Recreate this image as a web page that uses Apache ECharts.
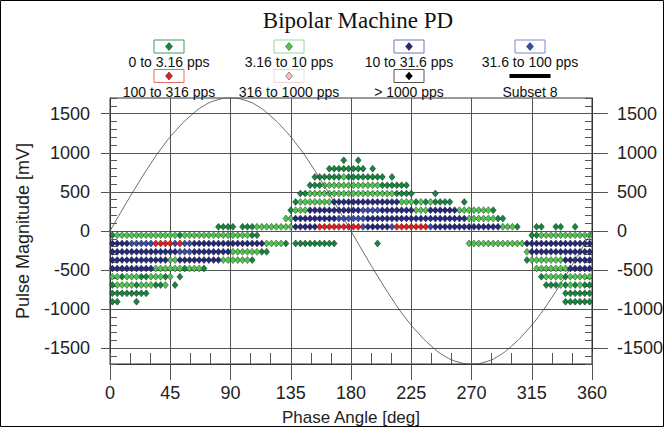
<!DOCTYPE html>
<html><head><meta charset="utf-8">
<script src="https://cdn.jsdelivr.net/npm/echarts@6/dist/echarts.min.js"></script>
<style>html,body{margin:0;padding:0;background:#fff}#c{width:664px;height:427px}</style>
</head><body><div id="c"></div><script>
const titleText = 'Bipolar Machine PD';
const seriesNames = ['0 to 3.16 pps', '3.16 to 10 pps', '10 to 31.6 pps', '31.6 to 100 pps', '100 to 316 pps', '316 to 1000 pps', '> 1000 pps'];
const seriesCodes = ['a', 'b', 'c', 'd', 'e', 'f', 'g'];
const curveName = 'Subset 8';
const phaseWindow = 3.6; // 100 phase windows of 3.6 deg
const magnitudes = [903, 797, 691, 584, 478, 372, 266, 159, 53, -53, -159, -266, -372, -478, -584, -691, -797, -903];
// one string per magnitude bin, one character per phase window ('.' = no pulses)
const rows = [
  ".......... .......... .......... .......... ........a. .a........ .......... .......... .......... ..........",
  ".......... .......... .......... .......... .....aaaaa aaa.a..... .......... .......... .......... ..........",
  ".......... .......... .......... .......... ..aaaaaaba aaaaaaa.a. .......... .......... .......... ..........",
  ".......... .......... .......... .......... .aaabbbbbb bbbbbbaaaa aa........ .......... .......... ..........",
  ".......... .......... .......... .........a abbbbbbbbb bbbbbbbbba aaa....a.. .......... .......... ..........",
  ".......... .......... .......... ........ab bbbbbbcccc cccccccccc bbbababaaa a..a...... .......... ..........",
  ".......... .......... .......... .......abb bccccccccc ccddddcccc cccbbbcccc ccbbbbbbba .......... ..........",
  ".......... .......... .......... ......bbcc cccccccddd dddccccccc cccccccccc ccccbbbbbb aa........ ..........",
  ".......... .......... ..aaaa.aaa bbbbbbbbcc ccceeeeeee eedcccccde eeeeeedccc cccccccccc cbbba...aa ..aa..a...",
  "abbbbbbbbb bbbbabbbbb bbbbbbbbba a......... .......... .......... .......... .......... .......aab bbbbbbbbbb",
  "ccccddddde eeededdccc cccccccccc ccbbbba.aa aaaaaaa... .....a.... .......... ....bbbbbb bbbbbbcccc cccccccccc",
  "cccccccccc ccccdddccc cccccbbbbb baa....... .......... .......... .......... .......... ......bccc cccccccccc",
  "cccccccccc ccbbcccccc cccbbbbbba .......... .......... .......... .......... .......... ......abbb bbbbcccccc",
  "cccccccccb bbbbbabbba .......... .......... .......... .......... .......... .......... ........bb bbbbbccccc",
  "bbabbbaabb bab.a..... .......... .......... .......... .......... .......... .......... .........a bbbbabbbbb",
  "abbbbabbba ab.a...... .......... .......... .......... .......... .......... .......... .......... aaabababaa",
  "aaaaaaaa.. .......... .......... .......... .......... .......... .......... .......... .......... ....aaaaaa",
  "aa...a.... .......... .......... .......... .......... .......... .......... .......... .......... ....aaaaaa"
];
const curvePhase = [0,10,20,30,40,50,60,70,80,90,100,110,120,130,140,150,160,170,180,190,200,210,220,230,240,250,260,270,280,290,300,310,320,330,340,350,360];
const curveValue = [0,295,580,850,1095,1300,1470,1600,1675,1700,1675,1600,1470,1300,1095,850,580,295,0,-295,-580,-850,-1095,-1300,-1470,-1600,-1675,-1700,-1675,-1600,-1470,-1300,-1095,-850,-580,-295,0];
const yTickValues = [-1500, -1000, -500, 0, 500, 1000, 1500];
const xAxisTitle = 'Phase Angle [deg]';
const yAxisTitle = 'Pulse Magnitude [mV]';

const seriesColors = ['#14863f', '#4fc44f', '#25297c', '#3a4aa6', '#e31d1d', '#f6c0c0', '#000000'];
const legendBoxColors = ['#3d9c5c', '#93d893', '#7474b4', '#7a88c8', '#e86a6a', '#f4d4d4', '#555555'];
const FONT = '"Liberation Sans", Arial, sans-serif';

const scatterSeries = seriesCodes.map((code, s) => {
  const data = [];
  rows.forEach((row, r) => {
    const cells = row.replace(/ /g, '');
    for (let i = 0; i < cells.length; i++) {
      if (cells[i] === code) data.push([(i + 0.5) * phaseWindow, magnitudes[r]]);
    }
  });
  return {
    name: seriesNames[s], type: 'scatter', symbol: 'diamond', symbolSize: [6, 7],
    data, silent: true, z: 3,
    itemStyle: { color: seriesColors[s], borderColor: '#0a0a0a', borderWidth: 0.4, opacity: 1 }
  };
});

const curveSeries = {
  name: curveName, type: 'line', smooth: true, showSymbol: false, silent: true, z: 4,
  data: curvePhase.map((p, i) => [p, curveValue[i]]),
  lineStyle: { color: '#444', width: 0.8 }
};

// legend drawn as graphics (icon box above label)
const legendCols = [169, 289, 409, 530];
const legendRowsPos = [{ box: 46.5, text: 62 }, { box: 76, text: 92 }];
const graphics = [];
seriesNames.forEach((name, i) => {
  const cx = legendCols[i % 4];
  const rp = legendRowsPos[Math.floor(i / 4)];
  graphics.push({ type: 'rect', silent: true, shape: { x: cx - 15, y: rp.box - 6.5, width: 30, height: 13 }, style: { fill: '#fff', stroke: legendBoxColors[i], lineWidth: 1 } });
  graphics.push({ type: 'polygon', silent: true, shape: { points: [[cx, rp.box - 4], [cx + 3.5, rp.box], [cx, rp.box + 4], [cx - 3.5, rp.box]] }, style: { fill: seriesColors[i], stroke: '#000', lineWidth: 0.4 } });
  graphics.push({ type: 'text', silent: true, x: cx, y: rp.text, style: { text: name, font: '14px ' + FONT, fill: '#111', align: 'center', verticalAlign: 'middle', textAlign: 'center', textVerticalAlign: 'middle' } });
});
{
  const cx = legendCols[3];
  const rp = legendRowsPos[1];
  graphics.push({ type: 'rect', silent: true, shape: { x: cx - 20.5, y: rp.box - 2, width: 41, height: 4 }, style: { fill: '#000' } });
  graphics.push({ type: 'text', silent: true, x: cx, y: rp.text, style: { text: curveName, font: '14px ' + FONT, fill: '#111', align: 'center', verticalAlign: 'middle', textAlign: 'center', textVerticalAlign: 'middle' } });
}
graphics.push({ type: 'rect', silent: true, shape: { x: 0.5, y: 0.5, width: 663, height: 426 }, style: { fill: 'none', stroke: '#000', lineWidth: 1 } });

const chart = echarts.init(document.getElementById('c'), null, { renderer: 'svg' });
const labelStyle = { fontSize: 18, color: '#222', fontFamily: FONT, formatter: v => String(v) };
chart.setOption({
  animation: false,
  backgroundColor: '#fff',
  title: { text: titleText, left: 353, top: 4, textAlign: 'center', textStyle: { fontFamily: '"Liberation Serif", "Times New Roman", serif', fontSize: 23, fontWeight: 'normal', color: '#111' } },
  grid: { left: 110, right: 72, top: 98, bottom: 63, containLabel: false, outerBoundsMode: 'none', show: true, borderColor: '#333', borderWidth: 1, backgroundColor: 'transparent' },
  xAxis: [
    { type: 'value', min: 0, max: 360, interval: 45, position: 'bottom',
      axisLine: { show: true, onZero: false, lineStyle: { color: '#333' } },
      axisTick: { show: true, length: 16, lineStyle: { color: '#555' } },
      axisLabel: Object.assign({ margin: 20 }, labelStyle),
      splitLine: { show: true, lineStyle: { color: '#555', width: 1 } },
      name: xAxisTitle, nameLocation: 'middle', nameGap: 45, nameTextStyle: { fontSize: 17, color: '#222', fontFamily: FONT } },
    { type: 'value', min: 0, max: 360, interval: 15, position: 'bottom',
      axisLine: { show: false, onZero: false }, axisTick: { show: true, inside: true, length: 11, lineStyle: { color: '#555' } },
      axisLabel: { show: false }, splitLine: { show: false } }
  ],
  yAxis: [
    { type: 'value', min: -1700, max: 1700, position: 'left',
      axisLine: { show: true, onZero: false, lineStyle: { color: '#333' } },
      axisTick: { show: true, length: 9, customValues: yTickValues, lineStyle: { color: '#555' } },
      axisLabel: Object.assign({ margin: 20, customValues: yTickValues }, labelStyle),
      splitLine: { show: true, lineStyle: { color: '#555', width: 1 } },
      name: yAxisTitle, nameLocation: 'middle', nameGap: 78, nameTextStyle: { fontSize: 18, color: '#222', fontFamily: FONT } },
    { type: 'value', min: -1700, max: 1700, interval: 100, position: 'left',
      axisLine: { show: false, onZero: false }, axisTick: { show: true, inside: true, length: 7, lineStyle: { color: '#555' } },
      axisLabel: { show: false }, splitLine: { show: false } },
    { type: 'value', min: -1700, max: 1700, position: 'right',
      axisLine: { show: true, onZero: false, lineStyle: { color: '#333' } },
      axisTick: { show: true, length: 16, customValues: yTickValues, lineStyle: { color: '#555' } },
      axisLabel: Object.assign({ margin: 25, customValues: yTickValues }, labelStyle),
      splitLine: { show: false } },
    { type: 'value', min: -1700, max: 1700, interval: 100, position: 'right',
      axisLine: { show: false, onZero: false }, axisTick: { show: true, inside: true, length: 7, lineStyle: { color: '#555' } },
      axisLabel: { show: false }, splitLine: { show: false } }
  ],
  graphic: graphics,
  series: scatterSeries.concat([curveSeries])
});
</script></body></html>
